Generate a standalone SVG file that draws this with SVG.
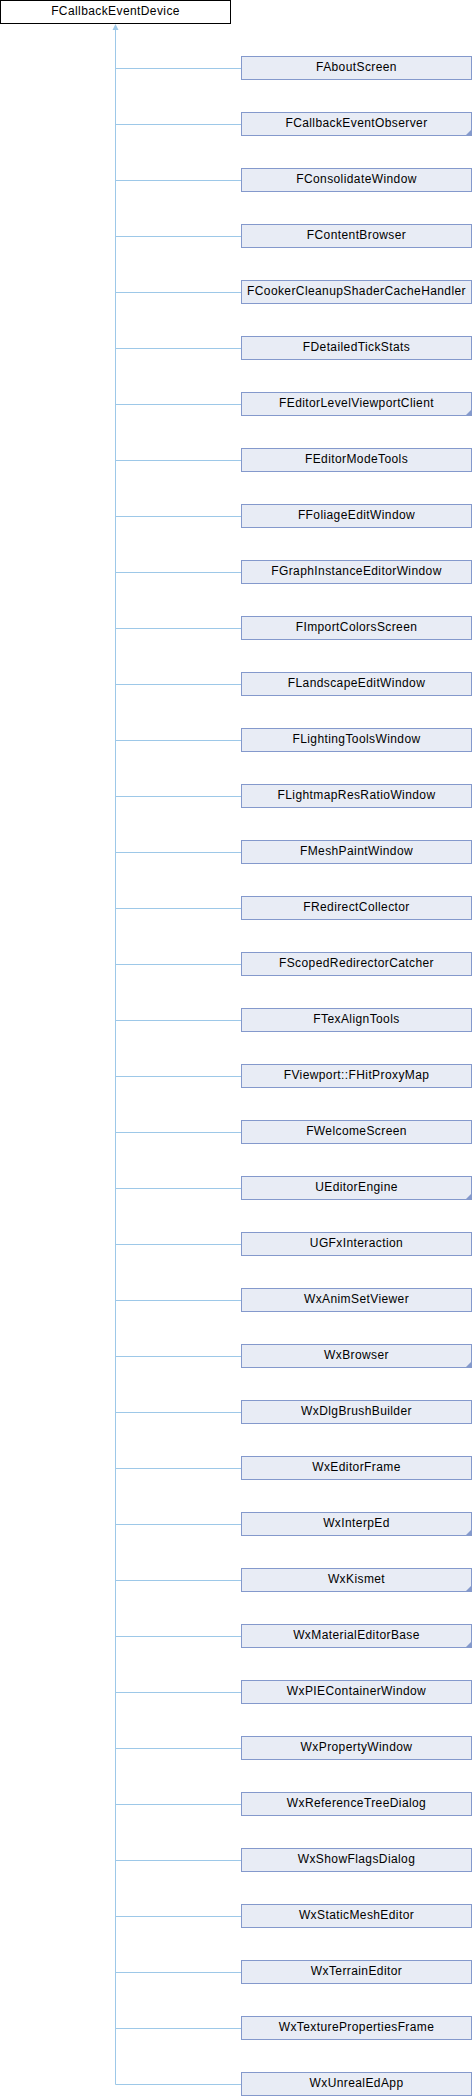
<svg xmlns="http://www.w3.org/2000/svg" width="472" height="2096" viewBox="0 0 472 2096">
<defs>
<style>
.root rect{fill:#ffffff;stroke:#000000;stroke-width:1}
.node rect{fill:#e8ecf5;stroke:#8499cc;stroke-width:1}
.node polygon{fill:#8499cc}
text{font-family:"Liberation Sans",Arial,sans-serif;font-size:12px;letter-spacing:0.4px;fill:#000000;text-anchor:middle}
.edges line{stroke:#9dc8e8;stroke-width:1}
.edges polygon{fill:#9dc8e8}
</style>
</defs>
<g class="edges" id="connectors">
<line x1="115.5" y1="29" x2="115.5" y2="2084.5"/>
<polygon points="115.5,24 118.5,30 112.5,30"/>
<line x1="115.5" y1="68.5" x2="241" y2="68.5"/>
<line x1="115.5" y1="124.5" x2="241" y2="124.5"/>
<line x1="115.5" y1="180.5" x2="241" y2="180.5"/>
<line x1="115.5" y1="236.5" x2="241" y2="236.5"/>
<line x1="115.5" y1="292.5" x2="241" y2="292.5"/>
<line x1="115.5" y1="348.5" x2="241" y2="348.5"/>
<line x1="115.5" y1="404.5" x2="241" y2="404.5"/>
<line x1="115.5" y1="460.5" x2="241" y2="460.5"/>
<line x1="115.5" y1="516.5" x2="241" y2="516.5"/>
<line x1="115.5" y1="572.5" x2="241" y2="572.5"/>
<line x1="115.5" y1="628.5" x2="241" y2="628.5"/>
<line x1="115.5" y1="684.5" x2="241" y2="684.5"/>
<line x1="115.5" y1="740.5" x2="241" y2="740.5"/>
<line x1="115.5" y1="796.5" x2="241" y2="796.5"/>
<line x1="115.5" y1="852.5" x2="241" y2="852.5"/>
<line x1="115.5" y1="908.5" x2="241" y2="908.5"/>
<line x1="115.5" y1="964.5" x2="241" y2="964.5"/>
<line x1="115.5" y1="1020.5" x2="241" y2="1020.5"/>
<line x1="115.5" y1="1076.5" x2="241" y2="1076.5"/>
<line x1="115.5" y1="1132.5" x2="241" y2="1132.5"/>
<line x1="115.5" y1="1188.5" x2="241" y2="1188.5"/>
<line x1="115.5" y1="1244.5" x2="241" y2="1244.5"/>
<line x1="115.5" y1="1300.5" x2="241" y2="1300.5"/>
<line x1="115.5" y1="1356.5" x2="241" y2="1356.5"/>
<line x1="115.5" y1="1412.5" x2="241" y2="1412.5"/>
<line x1="115.5" y1="1468.5" x2="241" y2="1468.5"/>
<line x1="115.5" y1="1524.5" x2="241" y2="1524.5"/>
<line x1="115.5" y1="1580.5" x2="241" y2="1580.5"/>
<line x1="115.5" y1="1636.5" x2="241" y2="1636.5"/>
<line x1="115.5" y1="1692.5" x2="241" y2="1692.5"/>
<line x1="115.5" y1="1748.5" x2="241" y2="1748.5"/>
<line x1="115.5" y1="1804.5" x2="241" y2="1804.5"/>
<line x1="115.5" y1="1860.5" x2="241" y2="1860.5"/>
<line x1="115.5" y1="1916.5" x2="241" y2="1916.5"/>
<line x1="115.5" y1="1972.5" x2="241" y2="1972.5"/>
<line x1="115.5" y1="2028.5" x2="241" y2="2028.5"/>
<line x1="115.5" y1="2084.5" x2="241" y2="2084.5"/>
</g>
<g class="root" id="FCallbackEventDevice"><rect x="0.5" y="0.5" width="230" height="23"/><text x="115.5" y="15">FCallbackEventDevice</text></g>
<g class="node" id="FAboutScreen"><rect x="241.5" y="56.5" width="230" height="23"/><text x="356.5" y="71">FAboutScreen</text></g>
<g class="node" id="FCallbackEventObserver"><rect x="241.5" y="112.5" width="230" height="23"/><polygon points="471,130 471,135 466,135"/><text x="356.5" y="127">FCallbackEventObserver</text></g>
<g class="node" id="FConsolidateWindow"><rect x="241.5" y="168.5" width="230" height="23"/><text x="356.5" y="183">FConsolidateWindow</text></g>
<g class="node" id="FContentBrowser"><rect x="241.5" y="224.5" width="230" height="23"/><text x="356.5" y="239">FContentBrowser</text></g>
<g class="node" id="FCookerCleanupShaderCacheHandler"><rect x="241.5" y="280.5" width="230" height="23"/><text x="356.5" y="295">FCookerCleanupShaderCacheHandler</text></g>
<g class="node" id="FDetailedTickStats"><rect x="241.5" y="336.5" width="230" height="23"/><text x="356.5" y="351">FDetailedTickStats</text></g>
<g class="node" id="FEditorLevelViewportClient"><rect x="241.5" y="392.5" width="230" height="23"/><polygon points="471,410 471,415 466,415"/><text x="356.5" y="407">FEditorLevelViewportClient</text></g>
<g class="node" id="FEditorModeTools"><rect x="241.5" y="448.5" width="230" height="23"/><text x="356.5" y="463">FEditorModeTools</text></g>
<g class="node" id="FFoliageEditWindow"><rect x="241.5" y="504.5" width="230" height="23"/><text x="356.5" y="519">FFoliageEditWindow</text></g>
<g class="node" id="FGraphInstanceEditorWindow"><rect x="241.5" y="560.5" width="230" height="23"/><text x="356.5" y="575">FGraphInstanceEditorWindow</text></g>
<g class="node" id="FImportColorsScreen"><rect x="241.5" y="616.5" width="230" height="23"/><text x="356.5" y="631">FImportColorsScreen</text></g>
<g class="node" id="FLandscapeEditWindow"><rect x="241.5" y="672.5" width="230" height="23"/><text x="356.5" y="687">FLandscapeEditWindow</text></g>
<g class="node" id="FLightingToolsWindow"><rect x="241.5" y="728.5" width="230" height="23"/><text x="356.5" y="743">FLightingToolsWindow</text></g>
<g class="node" id="FLightmapResRatioWindow"><rect x="241.5" y="784.5" width="230" height="23"/><text x="356.5" y="799">FLightmapResRatioWindow</text></g>
<g class="node" id="FMeshPaintWindow"><rect x="241.5" y="840.5" width="230" height="23"/><text x="356.5" y="855">FMeshPaintWindow</text></g>
<g class="node" id="FRedirectCollector"><rect x="241.5" y="896.5" width="230" height="23"/><text x="356.5" y="911">FRedirectCollector</text></g>
<g class="node" id="FScopedRedirectorCatcher"><rect x="241.5" y="952.5" width="230" height="23"/><text x="356.5" y="967">FScopedRedirectorCatcher</text></g>
<g class="node" id="FTexAlignTools"><rect x="241.5" y="1008.5" width="230" height="23"/><text x="356.5" y="1023">FTexAlignTools</text></g>
<g class="node" id="FViewport_FHitProxyMap"><rect x="241.5" y="1064.5" width="230" height="23"/><text x="356.5" y="1079">FViewport::FHitProxyMap</text></g>
<g class="node" id="FWelcomeScreen"><rect x="241.5" y="1120.5" width="230" height="23"/><text x="356.5" y="1135">FWelcomeScreen</text></g>
<g class="node" id="UEditorEngine"><rect x="241.5" y="1176.5" width="230" height="23"/><polygon points="471,1194 471,1199 466,1199"/><text x="356.5" y="1191">UEditorEngine</text></g>
<g class="node" id="UGFxInteraction"><rect x="241.5" y="1232.5" width="230" height="23"/><text x="356.5" y="1247">UGFxInteraction</text></g>
<g class="node" id="WxAnimSetViewer"><rect x="241.5" y="1288.5" width="230" height="23"/><text x="356.5" y="1303">WxAnimSetViewer</text></g>
<g class="node" id="WxBrowser"><rect x="241.5" y="1344.5" width="230" height="23"/><polygon points="471,1362 471,1367 466,1367"/><text x="356.5" y="1359">WxBrowser</text></g>
<g class="node" id="WxDlgBrushBuilder"><rect x="241.5" y="1400.5" width="230" height="23"/><text x="356.5" y="1415">WxDlgBrushBuilder</text></g>
<g class="node" id="WxEditorFrame"><rect x="241.5" y="1456.5" width="230" height="23"/><text x="356.5" y="1471">WxEditorFrame</text></g>
<g class="node" id="WxInterpEd"><rect x="241.5" y="1512.5" width="230" height="23"/><polygon points="471,1530 471,1535 466,1535"/><text x="356.5" y="1527">WxInterpEd</text></g>
<g class="node" id="WxKismet"><rect x="241.5" y="1568.5" width="230" height="23"/><polygon points="471,1586 471,1591 466,1591"/><text x="356.5" y="1583">WxKismet</text></g>
<g class="node" id="WxMaterialEditorBase"><rect x="241.5" y="1624.5" width="230" height="23"/><polygon points="471,1642 471,1647 466,1647"/><text x="356.5" y="1639">WxMaterialEditorBase</text></g>
<g class="node" id="WxPIEContainerWindow"><rect x="241.5" y="1680.5" width="230" height="23"/><text x="356.5" y="1695">WxPIEContainerWindow</text></g>
<g class="node" id="WxPropertyWindow"><rect x="241.5" y="1736.5" width="230" height="23"/><text x="356.5" y="1751">WxPropertyWindow</text></g>
<g class="node" id="WxReferenceTreeDialog"><rect x="241.5" y="1792.5" width="230" height="23"/><text x="356.5" y="1807">WxReferenceTreeDialog</text></g>
<g class="node" id="WxShowFlagsDialog"><rect x="241.5" y="1848.5" width="230" height="23"/><text x="356.5" y="1863">WxShowFlagsDialog</text></g>
<g class="node" id="WxStaticMeshEditor"><rect x="241.5" y="1904.5" width="230" height="23"/><text x="356.5" y="1919">WxStaticMeshEditor</text></g>
<g class="node" id="WxTerrainEditor"><rect x="241.5" y="1960.5" width="230" height="23"/><text x="356.5" y="1975">WxTerrainEditor</text></g>
<g class="node" id="WxTexturePropertiesFrame"><rect x="241.5" y="2016.5" width="230" height="23"/><text x="356.5" y="2031">WxTexturePropertiesFrame</text></g>
<g class="node" id="WxUnrealEdApp"><rect x="241.5" y="2072.5" width="230" height="23"/><text x="356.5" y="2087">WxUnrealEdApp</text></g>
</svg>
